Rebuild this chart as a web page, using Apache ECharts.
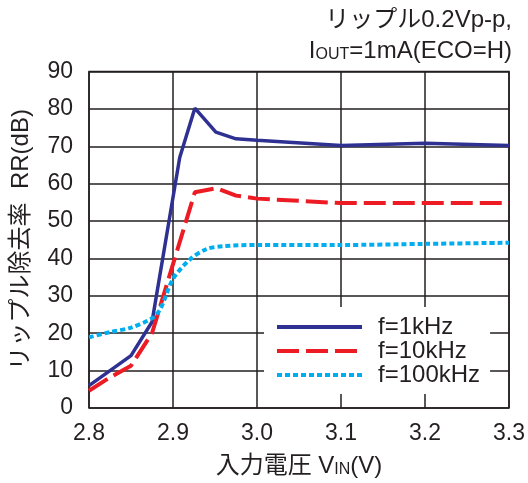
<!DOCTYPE html>
<html>
<head>
<meta charset="utf-8">
<script src="https://cdn.jsdelivr.net/npm/echarts@6/dist/echarts.min.js"></script>
<style>
  html, body { margin: 0; padding: 0; background: #fff; }
  #chart { width: 528px; height: 483px; }
</style>
</head>
<body>
<div id="chart"></div>
<script>
const FONT = "'Liberation Sans', 'Noto Sans CJK JP', sans-serif"
const TXT = '#231f20'

// 入力電圧 (V) / リップル除去率 (dB)
const vin1k = [2.8, 2.825, 2.85, 2.875, 2.908, 2.926, 2.951, 2.975, 3.0, 3.1, 3.2, 3.3]
const rr1k = [6, 10, 14, 23, 67, 80.2, 73.8, 72, 71.6, 70.2, 70.8, 70.2]

const vin10k = [2.8, 2.825, 2.85, 2.875, 2.926, 2.952, 2.975, 3.0, 3.1, 3.2, 3.3]
const rr10k = [4.6, 8.2, 11.3, 20, 57.7, 58.8, 56.8, 56, 54.8, 54.8, 54.8]

const vin100k = [2.8, 2.825, 2.85, 2.875, 2.885, 2.9, 2.92, 2.94, 2.96, 3.0, 3.1, 3.2, 3.3]
const rr100k = [18.9, 20.3, 21.5, 24, 26.5, 34.5, 39.7, 42.5, 43.3, 43.6, 43.6, 43.9, 44.2]

const legendNames = ['f=1kHz', 'f=10kHz', 'f=100kHz']
const xTicks = [2.8, 3.3, 0.1]   // min, max, interval
const yTicks = [0, 90, 10]

const zip = (xs, ys) => xs.map((x, i) => [x, ys[i]])
const gridLine = { color: TXT, width: 1.5 }

const chart = echarts.init(document.getElementById('chart'), null, { renderer: 'canvas' })

const option = {
  backgroundColor: '#fff',
  animation: false,
  textStyle: { fontFamily: FONT, color: TXT },
  // 右上の条件
  title: [
    {
      text: 'リップル0.2Vp-p,',
      right: 16, top: 8, padding: 0,
      textStyle: { fontSize: 24, fontWeight: 'normal', color: TXT, fontFamily: FONT }
    },
    {
      text: 'I{s|OUT}=1mA(ECO=H)',
      right: 16, top: 39, padding: 0,
      textStyle: {
        fontSize: 24, fontWeight: 'normal', color: TXT, fontFamily: FONT,
        rich: { s: { fontSize: 16, color: TXT, fontFamily: FONT, verticalAlign: 'bottom', padding: [6, 0, 0, 0] } }
      }
    }
  ],
  legend: {
    orient: 'vertical',
    left: 264, top: 307,
    padding: [8, 10, 7, 11],
    backgroundColor: '#fff',
    itemWidth: 85, itemHeight: 20, itemGap: 0,
    itemStyle: { opacity: 0 },   // 丸マーカーを消す
    lineStyle: { width: 4 },
    textStyle: { fontSize: 24, color: TXT, fontFamily: FONT, lineHeight: 20, padding: [0, 0, 0, 11] },
    data: legendNames
  },
  grid: {
    left: 89, right: 18, top: 71.5, bottom: 74,
    show: true, borderColor: TXT, borderWidth: 1.5
  },
  xAxis: {
    type: 'value',
    min: xTicks[0], max: xTicks[1], interval: xTicks[2],
    name: '入力電圧 V{s|IN}(V)',
    nameLocation: 'middle', nameGap: 46,
    nameTextStyle: {
      fontSize: 24, color: TXT, fontFamily: FONT,
      rich: { s: { fontSize: 16, color: TXT, fontFamily: FONT, verticalAlign: 'bottom', padding: [6, 0, 0, 0] } }
    },
    axisLine: { show: false },
    axisTick: { show: false },
    axisLabel: { fontSize: 23, color: TXT, margin: 14, formatter: v => v.toFixed(1) },
    splitLine: { show: true, lineStyle: gridLine }
  },
  yAxis: {
    type: 'value',
    min: yTicks[0], max: yTicks[1], interval: yTicks[2],
    name: 'リップル除去率  RR(dB)',
    nameLocation: 'middle', nameGap: 56, nameRotate: 90,
    nameTextStyle: { fontSize: 24, color: TXT, fontFamily: FONT },
    axisLine: { show: false },
    axisTick: { show: false },
    axisLabel: { fontSize: 23, color: TXT, margin: 16 },
    splitLine: { show: true, lineStyle: gridLine }
  },
  series: [
    {
      name: legendNames[0], type: 'line', symbol: 'none',
      lineStyle: { color: '#2e3192', width: 3.5 },
      itemStyle: { color: '#2e3192' },
      data: zip(vin1k, rr1k)
    },
    {
      name: legendNames[1], type: 'line', symbol: 'none',
      lineStyle: { color: '#ed1c24', width: 4, type: [22, 7] },
      itemStyle: { color: '#ed1c24' },
      data: zip(vin10k, rr10k)
    },
    {
      name: legendNames[2], type: 'line', symbol: 'none', smooth: 0.3,
      lineStyle: { color: '#00aeef', width: 4, type: [5, 3] },
      itemStyle: { color: '#00aeef' },
      data: zip(vin100k, rr100k)
    }
  ]
}

chart.setOption(option)
</script>
</body>
</html>
